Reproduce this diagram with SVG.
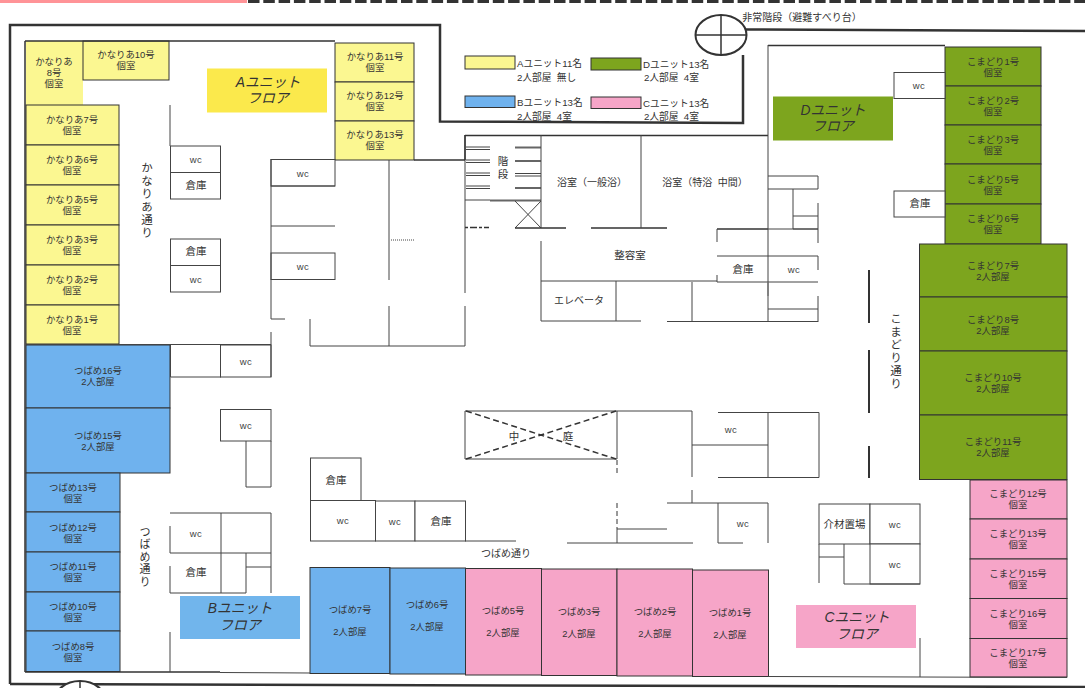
<svg xmlns="http://www.w3.org/2000/svg" width="1085" height="688" viewBox="0 0 1085 688">
<style>
text{font-family:"Liberation Sans","Noto Sans CJK JP",sans-serif;font-size:9.4px;fill:#333;text-anchor:middle}
.y{fill:#FBF791}.b{fill:#6FB2EE}.g{fill:#7DA51E}.p{fill:#F6A5C8}
.room{stroke:#333;stroke-width:1}
.plain{fill:#fff;stroke:#444;stroke-width:1}
.lab{stroke:none}
.flr{font-size:13.8px;font-style:italic;fill:#333}
.wc{font-size:9.5px;letter-spacing:.5px;fill:#444}
.leg{text-anchor:start;font-size:9.7px}
.big{font-size:10.5px}
.vert{writing-mode:vertical-rl;text-anchor:start;font-size:11px;letter-spacing:1.5px}
#walls path{fill:none;stroke:#444;stroke-width:1}
#walls .th{stroke:#333;stroke-width:2.5}
#walls .m{stroke:#333;stroke-width:1.5}
#walls .d{stroke:#333;stroke-width:1.5;stroke-dasharray:6 3.5}
#walls .dv{stroke:#333;stroke-width:1;stroke-dasharray:5 3}
#walls .gr{stroke:#777;stroke-width:1.5}
#walls .s{stroke:#666;stroke-width:2}
</style>
<rect x="0" y="0" width="1085" height="688" fill="#fff"/>
<rect x="0" y="0" width="247" height="3" fill="#FF9397"/>
<path d="M248 1.5H1085" stroke="#333" stroke-width="3" stroke-dasharray="11.5 3.8" fill="none"/>

<g id="legend">
<rect class="y room" x="465" y="56" width="50" height="13"/>
<text class="leg" y="67"><tspan x="517">Aユニット11名</tspan><tspan x="517" dy="14">2人部屋&#160;&#160;無し</tspan></text>
<rect class="g room" x="591" y="58" width="50" height="12"/>
<text class="leg" y="68"><tspan x="643">Dユニット13名</tspan><tspan x="644" dy="13">2人部屋&#160;&#160;4室</tspan></text>
<rect class="b room" x="465" y="96" width="50" height="11.500"/>
<text class="leg" y="106"><tspan x="517">Bユニット13名</tspan><tspan x="517" dy="14">2人部屋&#160;&#160;4室</tspan></text>
<rect class="p room" x="591" y="97" width="50" height="11.500"/>
<text class="leg" y="107"><tspan x="643">Cユニット13名</tspan><tspan x="644" dy="13">2人部屋&#160;&#160;4室</tspan></text>
</g>

<g id="room-a8"><rect class="y lab" x="26" y="41" width="57" height="64"/><text y="65"><tspan x="54">かなりあ</tspan><tspan x="54" dy="11">8号</tspan><tspan x="54" dy="11">個室</tspan></text></g>
<g id="room-a10"><rect class="y room" x="83" y="41" width="86" height="39"/><text y="58"><tspan x="126">かなりあ10号</tspan><tspan x="126" dy="11">個室</tspan></text></g>
<g id="room-a7"><rect class="y room" x="26" y="105" width="93" height="40"/><text y="123"><tspan x="72">かなりあ7号</tspan><tspan x="72" dy="11">個室</tspan></text></g>
<g id="room-a6"><rect class="y room" x="26" y="145" width="93" height="40"/><text y="163"><tspan x="72">かなりあ6号</tspan><tspan x="72" dy="11">個室</tspan></text></g>
<g id="room-a5"><rect class="y room" x="26" y="185" width="93" height="40"/><text y="203"><tspan x="72">かなりあ5号</tspan><tspan x="72" dy="11">個室</tspan></text></g>
<g id="room-a3"><rect class="y room" x="26" y="225" width="93" height="40"/><text y="243"><tspan x="72">かなりあ3号</tspan><tspan x="72" dy="11">個室</tspan></text></g>
<g id="room-a2"><rect class="y room" x="26" y="265" width="93" height="40"/><text y="283"><tspan x="72">かなりあ2号</tspan><tspan x="72" dy="11">個室</tspan></text></g>
<g id="room-a1"><rect class="y room" x="26" y="305" width="93" height="39"/><text y="323"><tspan x="72">かなりあ1号</tspan><tspan x="72" dy="11">個室</tspan></text></g>
<g id="room-a11"><rect class="y room" x="335" y="43" width="79" height="39"/><text y="60"><tspan x="375">かなりあ11号</tspan><tspan x="375" dy="11">個室</tspan></text></g>
<g id="room-a12"><rect class="y room" x="335" y="82" width="79" height="39"/><text y="99"><tspan x="375">かなりあ12号</tspan><tspan x="375" dy="11">個室</tspan></text></g>
<g id="room-a13"><rect class="y room" x="335" y="121" width="79" height="39"/><text y="138"><tspan x="375">かなりあ13号</tspan><tspan x="375" dy="11">個室</tspan></text></g>

<g id="room-b16"><rect class="b room" x="26" y="345" width="144" height="63"/><text y="374"><tspan x="98">つばめ16号</tspan><tspan x="98" dy="11">2人部屋</tspan></text></g>
<g id="room-b15"><rect class="b room" x="26" y="408" width="144" height="65"/><text y="439"><tspan x="98">つばめ15号</tspan><tspan x="98" dy="11">2人部屋</tspan></text></g>
<g id="room-b13"><rect class="b room" x="26" y="473" width="94" height="39"/><text y="491"><tspan x="73">つばめ13号</tspan><tspan x="73" dy="11">個室</tspan></text></g>
<g id="room-b12"><rect class="b room" x="26" y="512" width="94" height="40"/><text y="531"><tspan x="73">つばめ12号</tspan><tspan x="73" dy="11">個室</tspan></text></g>
<g id="room-b11"><rect class="b room" x="26" y="552" width="94" height="40"/><text y="570"><tspan x="73">つばめ11号</tspan><tspan x="73" dy="11">個室</tspan></text></g>
<g id="room-b10"><rect class="b room" x="26" y="592" width="94" height="39"/><text y="610"><tspan x="73">つばめ10号</tspan><tspan x="73" dy="11">個室</tspan></text></g>
<g id="room-b8"><rect class="b room" x="26" y="631" width="94" height="40.500"/><text y="650"><tspan x="73">つばめ8号</tspan><tspan x="73" dy="11">個室</tspan></text></g>
<g id="room-b7"><rect class="b room" x="310" y="567.500" width="80" height="106"/><text y="613"><tspan x="350">つばめ7号</tspan><tspan x="350" dy="22">2人部屋</tspan></text></g>
<g id="room-b6"><rect class="b room" x="390" y="568" width="75.500" height="106"/><text y="608"><tspan x="427">つばめ6号</tspan><tspan x="427" dy="22">2人部屋</tspan></text></g>

<g id="room-c5"><rect class="p room" x="465.500" y="568.500" width="76" height="106.500"/><text y="614"><tspan x="503">つばめ5号</tspan><tspan x="503" dy="22">2人部屋</tspan></text></g>
<g id="room-c3"><rect class="p room" x="541.500" y="569" width="75.500" height="106.500"/><text y="615"><tspan x="579">つばめ3号</tspan><tspan x="579" dy="22">2人部屋</tspan></text></g>
<g id="room-c2"><rect class="p room" x="617" y="569" width="75.500" height="107"/><text y="615"><tspan x="655">つばめ2号</tspan><tspan x="655" dy="22">2人部屋</tspan></text></g>
<g id="room-c1"><rect class="p room" x="692.500" y="570" width="76" height="106.500"/><text y="616"><tspan x="730">つばめ1号</tspan><tspan x="730" dy="22">2人部屋</tspan></text></g>
<g id="room-c12"><rect class="p room" x="970" y="480" width="97" height="39"/><text y="497"><tspan x="1018">こまどり12号</tspan><tspan x="1018" dy="11">個室</tspan></text></g>
<g id="room-c13"><rect class="p room" x="970" y="519" width="97" height="40"/><text y="537"><tspan x="1018">こまどり13号</tspan><tspan x="1018" dy="11">個室</tspan></text></g>
<g id="room-c15"><rect class="p room" x="970" y="559" width="97" height="39.500"/><text y="577"><tspan x="1018">こまどり15号</tspan><tspan x="1018" dy="11">個室</tspan></text></g>
<g id="room-c16"><rect class="p room" x="970" y="598.500" width="97" height="40"/><text y="617"><tspan x="1018">こまどり16号</tspan><tspan x="1018" dy="11">個室</tspan></text></g>
<g id="room-c17"><rect class="p room" x="970" y="638.500" width="97" height="38.500"/><text y="656"><tspan x="1018">こまどり17号</tspan><tspan x="1018" dy="11">個室</tspan></text></g>

<g id="room-d1"><rect class="g room" x="945" y="47" width="96" height="39"/><text y="65"><tspan x="993">こまどり1号</tspan><tspan x="993" dy="11">個室</tspan></text></g>
<g id="room-d2"><rect class="g room" x="945" y="86" width="96" height="39"/><text y="104"><tspan x="993">こまどり2号</tspan><tspan x="993" dy="11">個室</tspan></text></g>
<g id="room-d3"><rect class="g room" x="945" y="125" width="96" height="39"/><text y="143"><tspan x="993">こまどり3号</tspan><tspan x="993" dy="11">個室</tspan></text></g>
<g id="room-d5"><rect class="g room" x="945" y="164" width="96" height="40"/><text y="183"><tspan x="993">こまどり5号</tspan><tspan x="993" dy="11">個室</tspan></text></g>
<g id="room-d6"><rect class="g room" x="945" y="204" width="96" height="40"/><text y="222"><tspan x="993">こまどり6号</tspan><tspan x="993" dy="11">個室</tspan></text></g>
<g id="room-d7"><rect class="g room" x="919.500" y="244" width="147.500" height="53"/><text y="269"><tspan x="993">こまどり7号</tspan><tspan x="993" dy="11">2人部屋</tspan></text></g>
<g id="room-d8"><rect class="g room" x="919.500" y="297" width="147.500" height="54"/><text y="323"><tspan x="993">こまどり8号</tspan><tspan x="993" dy="11">2人部屋</tspan></text></g>
<g id="room-d10"><rect class="g room" x="919.500" y="351" width="147.500" height="64"/><text y="381"><tspan x="993">こまどり10号</tspan><tspan x="993" dy="11">2人部屋</tspan></text></g>
<g id="room-d11"><rect class="g room" x="919.500" y="415" width="147.500" height="64.500"/><text y="445"><tspan x="993">こまどり11号</tspan><tspan x="993" dy="11">2人部屋</tspan></text></g>

<g id="floor-a"><rect x="207" y="68.500" width="120" height="44" fill="#FBE94C"/><text class="flr" y="87"><tspan x="268">Aユニット</tspan><tspan x="268" dy="16">フロア</tspan></text></g>
<g id="floor-d"><rect x="773" y="96.500" width="120" height="44" class="g"/><text class="flr" y="115"><tspan x="833">Dユニット</tspan><tspan x="833" dy="16">フロア</tspan></text></g>
<g id="floor-b"><rect x="180" y="596" width="120" height="43" fill="#71B5EC"/><text class="flr" y="613"><tspan x="240">Bユニット</tspan><tspan x="240" dy="17">フロア</tspan></text></g>
<g id="floor-c"><rect x="796" y="605" width="120" height="43" class="p"/><text class="flr" y="622"><tspan x="857">Cユニット</tspan><tspan x="857" dy="17">フロア</tspan></text></g>

<g id="wc-a1"><rect class="plain" x="170.500" y="146" width="50" height="26.500"/><text class="wc" x="196" y="163">wc</text></g>
<g id="store-a1"><rect class="plain" x="170.500" y="172.500" width="50" height="26.500"/><text x="196" y="189" class="big">倉庫</text></g>
<g id="store-a2"><rect class="plain" x="170.500" y="239" width="50" height="26.500"/><text x="196" y="255" class="big">倉庫</text></g>
<g id="wc-a2"><rect class="plain" x="170.500" y="265.500" width="50" height="26.500"/><text class="wc" x="196" y="283">wc</text></g>
<g id="wc-a3"><rect class="plain" x="271" y="159.500" width="64" height="26.500"/><text class="wc" x="303" y="177">wc</text></g>
<g id="wc-a4"><rect class="plain" x="271" y="253" width="64" height="26.500"/><text class="wc" x="303" y="270">wc</text></g>
<g id="wc-b1"><rect class="plain" x="220.500" y="345" width="50.500" height="32"/><text class="wc" x="246" y="365">wc</text></g>
<g id="wc-b2"><rect class="plain" x="220.500" y="409.500" width="50.500" height="31.500"/><text class="wc" x="246" y="429">wc</text></g>
<g id="wc-b3"><text class="wc" x="196" y="537">wc</text></g>
<g id="store-b1"><text x="196" y="576" class="big">倉庫</text></g>
<g id="store-m1"><rect class="plain" x="310.500" y="458" width="50.500" height="42.500"/><text x="336" y="484" class="big">倉庫</text></g>
<g id="wc-m1"><rect class="plain" x="310.500" y="500.500" width="65" height="40.500"/><text class="wc" x="343" y="524">wc</text></g>
<g id="wc-m2"><rect class="plain" x="375.500" y="501" width="39.500" height="40"/><text class="wc" x="395" y="525">wc</text></g>
<g id="store-m2"><rect class="plain" x="415" y="501" width="50.500" height="40"/><text x="441" y="525" class="big">倉庫</text></g>
<g id="wc-c1"><text class="wc" x="731" y="433">wc</text></g>
<g id="wc-c2"><text class="wc" x="743" y="527">wc</text></g>
<g id="care"><rect class="plain" x="819" y="504" width="51" height="40"/><text x="844.500" y="528" class="big">介材置場</text></g>
<g id="wc-c3"><rect class="plain" x="870" y="504" width="50" height="40"/><text class="wc" x="895" y="528">wc</text></g>
<g id="wc-c4"><rect class="plain" x="870" y="544" width="50" height="40"/><text class="wc" x="895" y="568">wc</text></g>
<g id="wc-d1"><rect class="plain" x="894" y="72.500" width="51" height="26"/><text class="wc" x="919" y="89">wc</text></g>
<g id="store-d"><rect class="plain" x="894" y="191" width="51" height="26"/><text x="920" y="207" class="big">倉庫</text></g>
<g id="stairs"><text class="big" y="165"><tspan x="503">階</tspan><tspan x="503" dy="13">段</tspan></text></g>
<g id="bath1"><text x="592" y="186" class="big" style="font-size:10px">浴室（一般浴）</text></g>
<g id="bath2"><text x="705" y="186" style="font-size:10px">浴室（特浴&#160;&#160;中間）</text></g>
<g id="salon"><text x="630" y="259" class="big">整容室</text></g>
<g id="elevator"><text x="579" y="304" style="font-size:10px">エレベータ</text></g>
<g id="store-e"><text x="743" y="273" class="big">倉庫</text></g>
<g id="wc-e"><text class="wc" x="794" y="273">wc</text></g>
<g id="court"><text x="514" y="440" class="big">中</text><text x="568" y="440" class="big">庭</text></g>
<g id="labels">
<text class="vert" x="146" y="162" style="font-size:11.500px">かなりあ通り</text>
<text class="vert" x="144" y="526">つばめ通り</text>
<text class="vert" x="895" y="313" style="font-size:11.500px">こまどり通り</text>
<text x="506" y="557" style="font-size:10px">つばめ通り</text>
<text x="802" y="21" style="font-size:10px">非常階段（避難すべり台）</text>
</g>

<g id="walls">
<path class="th" d="M10 684V25H440V121.500L743 123V55"/>
<path class="th" d="M10 684L1085 687"/>
<path class="th" d="M746 29.500L1085 31"/>
<ellipse cx="721" cy="35" rx="25.500" ry="20" fill="#fff" stroke="#333" stroke-width="2"/>
<path class="m" d="M696 35H746M721 15V55"/>
<ellipse cx="80" cy="702" rx="26" ry="21" fill="#fff" stroke="#333" stroke-width="2"/>
<path class="m" d="M80 681V688"/>
<path class="m" d="M25 41H335M25 41V672M25 672H220"/>
<path d="M220 672.500L310 673M170 632V672M26 344.500H271M271 332V377M170.500 345V377H221"/>
<path d="M170 105V146"/>
<path d="M246 441V487H271V441"/>
<path d="M170 513H271V593M170 526V553H271M170 566V593H246V553M221 513V593M246 567H271"/>
<path d="M271 186H335M271 226H335M271 159V319H285M310 319V346H465M465 135V293M465 306V346M389 160V280M389 306V346"/>
<path class="m" d="M414 160H465"/>
<path d="M391 240H415" style="stroke-dasharray:1 1"/>
<path class="m" d="M465 135.500H768M465 135V160"/>
<path class="m" d="M768 45.500H945"/>
<path d="M466 147H490M466 149.500H490M466 160H490M466 162.500H490M466 173H490M466 175.500H490M466 186H490M466 188.500H490"/>
<path class="s" d="M515 147.500H541M515 161H541M515 188H541"/>
<path d="M515 173.500H541M515 176H541M465 200H490"/>
<path class="s" d="M490 200.500H541"/>
<path d="M541 135V228M515 201L541 228M541 201L515 228"/>
<path d="M465 227.500H489" style="stroke:#333;stroke-width:1.500;stroke-dasharray:3 2 7 2"/>
<path class="m" d="M515 228H566M591 228H667M717 229H768"/>
<path d="M641 135V228M541 241V321H641M667 321.500H818M541 281H717M616 281V321M692 282V322M717 229V242M717 256H818M717 275V282M717 282H818"/>
<path d="M768 45V322M768 176H818V189H768M793 189V229H818M793 216H818M818 203V243M768 229H818M818 256V270M818 296V322M768 309H818"/>
<path class="gr" d="M768 283V296"/>
<path class="th" d="M869 270V323M869 350V413M869 446V478" style="stroke-width:2"/>
<path d="M465 411H692V477M692 490V503M465 411V459H617M617 411V459"/>
<path class="d" d="M466 411L616 459M466 459L616 411"/>
<path class="dv" d="M617 460V476M617 503V529"/>
<path d="M617 529H667M617 529V543M465 541H516M567 543H693M667 503H768V543M718 503V543H743"/>
<path d="M692 445H768M718 412.500H819V477.500H718M768 412.500V477.500"/>
<path d="M819 544V583M819 557H844M844 544V584H920"/>
<path d="M920 638V677M768 676.500L1067 677.500"/>
</g>
</svg>
